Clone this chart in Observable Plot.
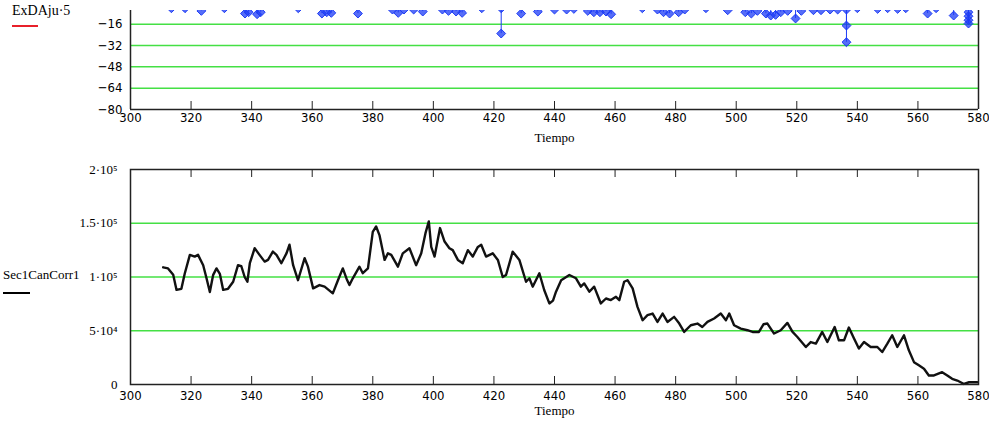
<!DOCTYPE html>
<html><head><meta charset="utf-8">
<script src="https://cdn.jsdelivr.net/npm/d3@7"></script>
<script src="https://cdn.jsdelivr.net/npm/@observablehq/plot@0.6"></script>
<style>
body{margin:0;background:#fff;}
#wrap{position:relative;width:989px;height:429px;overflow:hidden;background:#fff;}
#top,#bot{position:absolute;left:0;}
#top{top:0}
#bot{top:150px}
.leg{position:absolute;font-family:"Liberation Serif","Times New Roman",serif;font-size:13px;color:#000;white-space:nowrap;}
</style></head><body>
<div id="wrap">
  <div id="top"></div><div id="bot"></div>
  <div class="leg" style="left:12px;top:3px;font-size:14px;line-height:16px;">ExDAju·5</div>
  <div style="position:absolute;left:12px;top:25px;width:26px;height:2px;background:#e8202a"></div>
  <div class="leg" style="left:3px;top:267px;">Sec1CanCorr1</div>
  <div style="position:absolute;left:3px;top:292px;width:27px;height:2px;background:#000"></div>
</div>
<script>
// ---- data ----
const xTicks = [300, 320, 340, 360, 380, 400, 420, 440, 460, 480, 500, 520, 540, 560, 580];
const topYTicks = [-16, -32, -48, -64, -80];
const topX = [313.5, 318, 323.4, 331, 337.8, 339, 341.8, 343, 355.4, 363.2, 364.8, 366.3, 375.1, 386.5, 388.4, 390.3,
  393.5, 396.5, 403, 405, 407.5, 409.5, 416, 422.4, 422.4, 429, 434.5, 440, 444, 446.4, 451, 453, 455, 457, 458.7,
  469, 474, 476, 478, 481, 483, 490, 497.2, 503, 505, 507, 509.8, 511.4, 513, 514.7, 517, 519.6, 521.5,
  525.5, 528, 531, 533.5, 536.4, 536.4, 536.4, 540, 546.7, 550, 553.3, 556, 563.2, 566, 571.8,
  576.7, 576.7, 576.7, 576.7];
const topY = [-4, -4, -6, -4, -8, -7, -8.5, -7, -4, -8, -7, -7.5, -8, -5, -7.5, -5,
  -5, -6.5, -5, -6, -6.5, -7.5, -4, -4, -23, -8, -6.5, -5, -5, -4.5, -6, -7, -7, -6.5, -8.5,
  -4, -5, -7, -8, -7, -5, -4, -5.5, -7, -8, -6, -8, -9.5, -9, -7, -6, -11.7, -6,
  -5.5, -5.5, -5, -5, -5, -17, -29.5, -4, -4.5, -4, -4.5, -4, -8, -4, -9.5,
  -7, -10, -13, -15.5];
const botYTicks = [0, 50000, 100000, 150000, 200000];
const botYLabels = ["0", "5·10⁴", "1·10⁵", "1.5·10⁵", "2·10⁵"];
const lineX = [310.8, 312.4, 314.1, 315.2, 316.8, 317.9, 319.6, 321.2, 322.3, 324.0, 325.0, 326.2, 327.3, 328.4, 329.5,
  330.6, 332.2, 333.9, 335.5, 336.6, 337.7, 338.6, 339.4, 341.0, 342.6, 344.3, 345.4, 347.0, 348.2, 349.8, 351.5, 352.5,
  353.7, 355.3, 357.5, 358.6, 360.3, 362.4, 364.1, 366.8, 368.5, 370.1, 371.4, 372.3, 373.4, 375.6, 376.7, 378.4, 380.0,
  381.1, 382.2, 383.9, 385.0, 386.1, 388.3, 389.9, 392.1, 394.3, 396.0, 397.4, 398.5, 399.3, 400.4, 402.2, 403.7, 405.3,
  406.4, 408.1, 409.7, 411.4, 413.0, 414.7, 415.8, 417.4, 419.6, 421.3, 422.9, 424.0, 426.2, 428.4, 430.6, 431.7, 432.8,
  435.0, 436.6, 438.3, 439.5, 440.5, 442.2, 444.9, 447.1, 448.7, 449.8, 451.5, 453.1, 455.3, 457.0, 458.6, 460.3, 461.4,
  463.0, 464.1, 465.8, 467.4, 469.1, 470.7, 472.4, 474.0, 475.7, 477.3, 479.5, 481.2, 482.8, 485.0, 487.2, 488.8, 490.5,
  492.7, 494.9, 496.6, 497.7, 499.3, 501.5, 503.7, 505.4, 507.5, 509.0, 510.3, 512.5, 514.7, 516.9, 518.6, 520.2, 523.0,
  524.6, 526.3, 528.4, 530.1, 532.5, 533.9, 535.6, 537.2, 538.9, 540.5, 542.2, 544.4, 546.6, 548.2, 549.9, 551.5, 553.2,
  555.4, 557.0, 558.7, 560.3, 562.0, 563.6, 565.3, 568.0, 569.7, 571.3, 573.0, 575.2, 576.9, 579.6];
const lineY = [109000, 108000, 102000, 88000, 89000, 103000, 120600, 119000, 120600, 111000, 100000, 86000, 102000, 108000, 103000,
  88000, 89000, 95600, 111000, 110000, 100000, 95600, 112800, 126800, 120600, 114300, 115900, 123600, 120600, 112800, 122000, 130000,
  111000, 97000, 117500, 109600, 89400, 92500, 91000, 84800, 97000, 108000, 98000, 92500, 98800, 109600, 103500, 108000, 142000,
  147000, 139000, 115900, 122000, 120600, 109600, 122000, 126800, 111000, 122000, 140800, 151700, 128000, 119000, 145500, 133000, 126800,
  125000, 115900, 112800, 125000, 119000, 128000, 130000, 119000, 122000, 115900, 100000, 101900, 123600, 115900, 95600, 98800, 91000,
  103500, 87900, 75400, 78000, 86300, 97000, 101900, 98800, 91000, 94000, 86300, 91000, 75400, 80000, 78500, 81600, 78500,
  95600, 97000, 89400, 72200, 59800, 64500, 66000, 58200, 66000, 58200, 62900, 56700, 48900, 55100, 56700, 53500, 58200,
  61400, 66000, 59800, 66000, 55100, 52000, 50500, 48900, 48900, 56000, 56700, 47400, 50500, 57300, 48900, 44200, 34900,
  39500, 38000, 48900, 39500, 53500, 41100, 41100, 53000, 42700, 33400, 39500, 34900, 34900, 30200, 38000, 45800, 34900,
  45800, 31800, 20800, 17800, 14700, 8400, 8400, 11500, 8400, 5300, 3700, 500, 2100, 2100];

// ---- styling ----
const sans = '"Liberation Sans Narrow","DejaVu Sans Condensed","Liberation Sans",Arial,sans-serif';
const serif = '"Liberation Serif","Times New Roman",serif';
const green = "#44e044";
const blue = "#1e3cf5";
const axisColor = "#222";

const topData = topX.map((x, i) => ({x, y: topY[i]}));
const lineData = lineX.map((x, i) => ({x, y: lineY[i]}));

const topPlot = Plot.plot({
  width: 989, height: 150,
  marginLeft: 130, marginRight: 11, marginTop: 10, marginBottom: 41,
  style: {background: "transparent"},
  x: {domain: [300, 580]},
  y: {domain: [-80, -5.7]},
  marks: [
    Plot.ruleY(topYTicks.slice(0, 4), {stroke: green, strokeWidth: 1.5}),
    Plot.ruleX(topData, {x: "x", y1: 0, y2: "y", stroke: blue, strokeWidth: 1, clip: true}),
    Plot.dot(topData, {x: "x", y: "y", symbol: "diamond2", r: 4, stroke: blue, fill: blue, fillOpacity: 0.75, strokeWidth: 1, clip: true}),
    Plot.tickX(xTicks.slice(1, -1), {x: d => d, insetTop: 91, stroke: axisColor}),
    Plot.ruleX([300, 580], {stroke: axisColor, strokeWidth: 1.5}),
    Plot.ruleY([-80], {stroke: axisColor, strokeWidth: 1.5}),
    Plot.axisX({ticks: xTicks, tickSize: 0, tickPadding: 3, fontSize: 13, fontFamily: sans, label: null}),
    Plot.axisY({ticks: topYTicks, tickSize: 0, tickPadding: 8, fontSize: 13, fontFamily: sans, label: null}),
    Plot.text(["Tiempo"], {frameAnchor: "bottom", dy: 32, fontFamily: serif, fontSize: 13, fill: "#000"})
  ]
});
document.getElementById("top").appendChild(topPlot);

const botPlot = Plot.plot({
  width: 989, height: 279,
  marginLeft: 130, marginRight: 11, marginTop: 19, marginBottom: 45,
  style: {background: "transparent"},
  x: {domain: [300, 580]},
  y: {domain: [0, 200000]},
  marks: [
    Plot.ruleY(botYTicks.slice(1, 4), {stroke: green, strokeWidth: 1.5}),
    Plot.line(lineData, {x: "x", y: "y", stroke: "#111", strokeWidth: 2.4, strokeLinejoin: "round"}),
    Plot.tickX(xTicks.slice(1, -1), {x: d => d, insetTop: 207, stroke: axisColor}),
    Plot.tickX(xTicks.slice(1, -1), {x: d => d, insetBottom: 207, stroke: axisColor}),
    Plot.frame({stroke: axisColor, strokeWidth: 1.5}),
    Plot.axisX({ticks: xTicks, tickSize: 0, tickPadding: 6, fontSize: 13, fontFamily: sans, label: null}),
    Plot.axisY({ticks: botYTicks, tickSize: 0, tickPadding: 13, fontSize: 13, fontFamily: serif, label: null,
      tickFormat: d => botYLabels[botYTicks.indexOf(d)]}),
    Plot.text(["Tiempo"], {frameAnchor: "bottom", dy: 30, fontFamily: serif, fontSize: 13, fill: "#000"})
  ]
});
document.getElementById("bot").appendChild(botPlot);
</script>
</body></html>
